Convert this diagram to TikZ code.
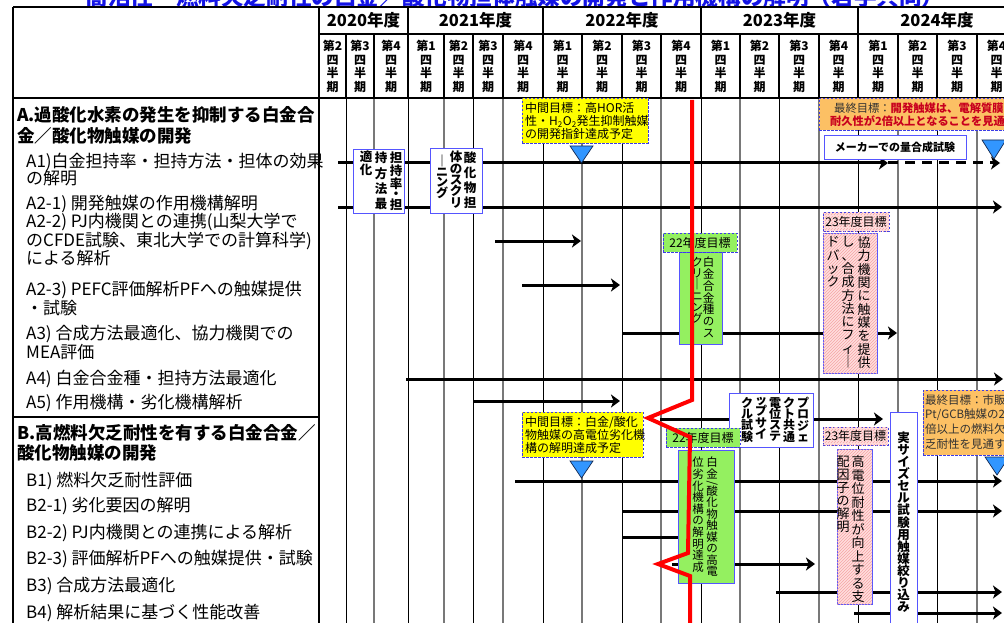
\documentclass[tikz,border=0pt]{standalone}
\usepackage{fontspec}
\setmainfont{Noto Sans CJK JP}
\usetikzlibrary{arrows.meta,patterns}
\definecolor{bluebd}{RGB}{85,85,255}
\definecolor{dashbd}{RGB}{60,60,230}
\definecolor{ylw}{RGB}{255,255,0}
\definecolor{org}{RGB}{252,192,100}
\definecolor{grn}{RGB}{148,240,96}
\definecolor{pinkbase}{RGB}{255,222,222}
\definecolor{pinkline}{RGB}{245,165,165}
\definecolor{tricol}{RGB}{50,150,255}
\definecolor{tribd}{RGB}{20,40,80}
\definecolor{gridgray}{RGB}{120,120,120}
\definecolor{ttlblue}{RGB}{20,20,230}
\definecolor{dred}{RGB}{200,0,30}
\definecolor{txtgray}{RGB}{50,50,50}
\definecolor{redl}{RGB}{255,0,0}
\newcommand\fsz[2]{\fontsize{#1}{#2}\selectfont}
\begin{document}
\lineskiplimit=-20pt\relax
\begin{tikzpicture}[x=1pt,y=-1pt,
  tline/.style={line width=1.5pt, black},
  bline/.style={line width=1pt, black},
  gline/.style={line width=1.8pt, gridgray},
  bar/.style={line width=3pt, black, -{Stealth[length=9pt,width=13pt,inset=2.5pt]}},
  barplain/.style={line width=3pt, black},
  bardash/.style={bar, dash pattern=on 10pt off 7pt},
  tri/.style={fill=tricol, draw=tribd, line width=0.7pt},
  bbox/.style={draw=bluebd, line width=0.9pt, fill=white, inner sep=0pt},
  dlbl/.style={draw=dashbd, line width=0.9pt, dash pattern=on 2.5pt off 1.5pt, inner sep=0pt},
  pinkfill/.style={fill=pinkbase, postaction={pattern=north east lines, pattern color=pinkline}},
  vcol/.style={inner sep=0pt, align=center, anchor=north},
  ltxt/.style={anchor=base west, yshift=-6.3pt, inner sep=0pt, font=\fsz{17}{19}},
  lhead/.style={anchor=base west, yshift=-6.5pt, inner sep=0pt, font=\bfseries\fsz{17.5}{19}},
  yr/.style={inner sep=0pt, font=\bfseries\fsz{16.5}{18}},
  qt/.style={inner sep=0pt, align=center, anchor=north, font=\bfseries\fsz{12}{13.7}},
  smtxt/.style={anchor=base west, yshift=-4.5pt, inner sep=0pt, font=\fsz{12}{13}},
  otxt/.style={anchor=base west, yshift=-4.3pt, inner sep=0pt, font=\fsz{11.5}{12}},
  redline/.style={line width=4pt, redl, line join=miter}
]
\useasboundingbox (0,0) rectangle (1004,623);
\clip (0,0) rectangle (1004,623);

% title
\node[anchor=base, inner sep=0pt, text=ttlblue, font=\bfseries\fsz{22.6}{24}] (title) at (515,5.5)
  {高活性・燃料欠乏耐性の白金／酸化物担体触媒の開発と作用機構の解明（若手共同）};

% grid
\foreach \x in {346,408,473,543,622,701,779,858,937} \draw[bline] (\x,98) -- (\x,630);
\foreach \x in {374,444,503,582,661,740,819,898,977} \draw[gline] (\x,98) -- (\x,630);
\draw[tline] (13,7) -- (1016,7);
\draw[tline] (319,34) -- (1016,34);
\draw[tline] (13,98) -- (1016,98);
\draw[tline] (13,7) -- (13,630);
\draw[tline] (319,7) -- (319,630);
\foreach \x in {408,543,701,858} \draw[tline] (\x,7) -- (\x,98);
\foreach \x in {346,374,444,473,503,582,622,661,740,779,819,898,937,977} \draw[tline] (\x,34) -- (\x,98);
\draw[tline] (13,417) -- (319,417);

% header texts
\node[yr] (y2020) at (363.5,20.5) {2020年度};
\node[yr] (y2021) at (475.5,20.5) {2021年度};
\node[yr] (y2022) at (622,20.5) {2022年度};
\node[yr] (y2023) at (779.5,20.5) {2023年度};
\node[yr] (y2024) at (937,20.5) {2024年度};
\foreach \a/\b/\q in {319/346/2,346/374/3,374/408/4,408/444/1,444/473/2,473/503/3,503/543/4,543/582/1,582/622/2,622/661/3,661/701/4,701/740/1,740/779/2,779/819/3,819/858/4,858/898/1,898/937/2,937/977/3,977/1016/4}{
  \pgfmathsetmacro\cx{(\a+\b)/2}
  \node[qt] (q\a) at (\cx,40) {第\q\\四\\半\\期};
}

% left texts
\node[lhead] (tA1) at (17,115) {A.過酸化水素の発生を抑制する白金合};
\node[lhead] (tA2) at (17,136) {金／酸化物触媒の開発};
\node[ltxt] (tA1a) at (26,161) {A1)白金担持率・担持方法・担体の効果};
\node[ltxt] (tA1b) at (26,178) {の解明};
\node[ltxt] (tA21) at (26,203) {A2-1) 開発触媒の作用機構解明};
\node[ltxt] (tA22a) at (26,221) {A2-2) PJ内機関との連携(山梨大学で};
\node[ltxt] (tA22b) at (26,240) {のCFDE試験、東北大学での計算科学)};
\node[ltxt] (tA22c) at (26,258) {による解析};
\node[ltxt] (tA23a) at (26,289) {A2-3) PEFC評価解析PFへの触媒提供};
\node[ltxt] (tA23b) at (26,308) {・試験};
\node[ltxt] (tA3a) at (26,333) {A3) 合成方法最適化、協力機関での};
\node[ltxt] (tA3b) at (26,352) {MEA評価};
\node[ltxt] (tA4) at (26,378) {A4) 白金合金種・担持方法最適化};
\node[ltxt] (tA5) at (26,402) {A5) 作用機構・劣化機構解析};
\node[lhead] (tB1) at (17,433) {B.高燃料欠乏耐性を有する白金合金／};
\node[lhead] (tB2) at (17,453) {酸化物触媒の開発};
\node[ltxt] (tB1x) at (26,480) {B1) 燃料欠乏耐性評価};
\node[ltxt] (tB21) at (26,505) {B2-1) 劣化要因の解明};
\node[ltxt] (tB22) at (26,532) {B2-2) PJ内機関との連携による解析};
\node[ltxt] (tB23) at (26,558) {B2-3) 評価解析PFへの触媒提供・試験};
\node[ltxt] (tB3) at (26,585) {B3) 合成方法最適化};
\node[ltxt] (tB4) at (26,612) {B4) 解析結果に基づく性能改善};

% bar end points
\coordinate (a1s) at (338,163); \coordinate (a1m) at (888,163); \coordinate (a1e) at (1000,163);
\coordinate (a21s) at (338,207); \coordinate (a21e) at (1002,207);
\coordinate (a22s) at (495,241); \coordinate (a22e) at (581,241);
\coordinate (a23s) at (522,285); \coordinate (a23e) at (620,285);
\coordinate (a3s) at (622,333); \coordinate (a3e) at (897,333);
\coordinate (a4s) at (406,379); \coordinate (a4e) at (1003,379);
\coordinate (a5s) at (473,401); \coordinate (a5e) at (620,401);
\coordinate (bhs) at (660,419); \coordinate (bhe) at (883,419);
\coordinate (b1s) at (515,481); \coordinate (b1e) at (1002,481);
\coordinate (b21s) at (622,511); \coordinate (b21e) at (1002,511);
\coordinate (b22s) at (622,537); \coordinate (b22e) at (680,537);
\coordinate (b23s) at (672,564); \coordinate (b23e) at (815,564);
\coordinate (b3s) at (776,592); \coordinate (b3e) at (1002,592);
\coordinate (b4s) at (854,613); \coordinate (b4e) at (1002,613);

\draw[bar] (a1s) -- (a1m);
\draw[bardash] (a1m) -- (a1e);
\draw[bar] (a21s) -- (a21e);
\draw[bar] (a22s) -- (a22e);
\draw[bar] (a23s) -- (a23e);
\draw[bar] (a3s) -- (a3e);
\draw[bar] (a4s) -- (a4e);
\draw[bar] (a5s) -- (a5e);
\draw[bar] (bhs) -- (bhe);
\draw[bar] (b1s) -- (b1e);
\draw[bar] (b21s) -- (b21e);
\draw[barplain] (b22s) -- (b22e);
\draw[bar] (b23s) -- (b23e);
\draw[bar] (b3s) -- (b3e);
\draw[bar] (b4s) -- (b4e);

% milestone triangles
\draw[tri] (570,146) -- (593,146) -- (581.5,163) -- cycle;
\draw[tri] (982,140) -- (1006,140) -- (994,159) -- cycle;
\draw[tri] (570,461) -- (593,461) -- (581.5,478) -- cycle;
\draw[tri] (985,457) -- (1009,457) -- (997,475) -- cycle;

% box A1
\node[bbox, minimum width=51pt, minimum height=64pt] (bA1) at (378.5,181) {};
\node[vcol, font=\bfseries\fsz{12.5}{13}] (bA1c1) at (396,151.5) {担\\持\\率\\[-2.5pt]・\\[-2.5pt]担};
\node[vcol, font=\bfseries\fsz{12.5}{15.3}] (bA1c2) at (381,152) {持\\方\\法\\最};
\node[vcol, font=\bfseries\fsz{12.5}{13}] (bA1c3) at (366,151) {適\\化};

% box A2
\node[bbox, minimum width=52pt, minimum height=65pt] (bA2) at (456,180.5) {};
\node[vcol, font=\bfseries\fsz{12.5}{15}] (bA2c1) at (470,152) {酸\\化\\物\\担};
\node[vcol, font=\bfseries\fsz{12.5}{11.3}] (bA2c2) at (456,151) {体\\の\\ス\\ク\\リ};
\node[vcol, font=\bfseries\fsz{12}{10.5}] (bA2c3) at (442,155) {｜\\ニ\\ン\\グ};

% maker box
\node[bbox, minimum width=142pt, minimum height=24pt, font=\bfseries\fsz{11}{12}] (mk) at (895,147) {メーカーでの量合成試験};

% yellow A
\node[dlbl, fill=ylw, minimum width=126pt, minimum height=45pt] (yA) at (585,120.5) {};
\node[smtxt] (yA1) at (525,108) {中間目標：高HOR活};
\node[smtxt] (yA2) at (525,121) {性・H\textsubscript{2}O\textsubscript{2}発生抑制触媒};
\node[smtxt] (yA3) at (525,134) {の開発指針達成予定};

% orange A
\node[dlbl, fill=org, minimum width=191pt, minimum height=32pt] (oA) at (914.5,114) {};
\node[otxt, font=\fsz{11.3}{12}] (oA1) at (834,108)
  {\textcolor{txtgray}{最終目標：}\textcolor{dred}{\bfseries 開発触媒は、電解質膜の}};
\node[otxt, font=\bfseries\fsz{11.2}{12}, text=dred] (oA2) at (830,121)
  {耐久性が2倍以上となることを見通す};

% green A
\node[bbox, fill=grn, minimum width=43pt, minimum height=92pt] (gA) at (700.5,298) {};
\node[dlbl, fill=grn, minimum width=74pt, minimum height=19pt, font=\fsz{12}{13}] (gAl) at (700,242.5) {22年度目標};
\node[vcol, font=\fsz{11.5}{11.7}] (gAc1) at (708.5,257) {白\\金\\合\\金\\種\\の\\ス};
\node[vcol, font=\fsz{11.5}{11.2}] (gAc2) at (697,257) {ク\\リ\\｜\\ニ\\ン\\グ};

% pink A
\node[dlbl, pinkfill, minimum width=66pt, minimum height=19pt, font=\fsz{12}{13}] (pAl) at (856,221.5) {23年度目標};
\node[bbox, pinkfill, minimum width=54pt, minimum height=140pt] (pA) at (850,303) {};
\node[vcol, font=\fsz{13}{13.3}] (pAc1) at (864,236.5) {協\\力\\機\\関\\に\\触\\媒\\を\\提\\供};
\node[vcol, font=\fsz{13}{13.3}] (pAc2) at (848,236.5) {し\\、\\合\\成\\方\\法\\に\\フ\\ィ\\｜};
\node[vcol, font=\fsz{13}{13.3}] (pAc3) at (833,236.5) {ド\\バ\\ッ\\ク};

% project box
\node[bbox, minimum width=84pt, minimum height=54pt] (prj) at (771,420) {};
\node[vcol, font=\bfseries\fsz{12}{11.3}] (prjc1) at (803,397) {プ\\ロ\\ジ\\ェ};
\node[vcol, font=\bfseries\fsz{12}{11.3}] (prjc2) at (789,397) {ク\\ト\\共\\通};
\node[vcol, font=\bfseries\fsz{12}{11.3}] (prjc3) at (775,397) {電\\位\\ス\\テ};
\node[vcol, font=\bfseries\fsz{12}{11.3}] (prjc4) at (761,397) {ッ\\プ\\サ\\イ};
\node[vcol, font=\bfseries\fsz{12}{11.3}] (prjc5) at (747,397) {ク\\ル\\試\\験};

% yellow B
\node[dlbl, fill=ylw, minimum width=121pt, minimum height=45pt] (yB) at (582.5,434.5) {};
\node[smtxt] (yB1) at (525,422) {中間目標：白金/酸化};
\node[smtxt] (yB2) at (525,435) {物触媒の高電位劣化機};
\node[smtxt] (yB3) at (525,448) {構の解明達成予定};

% green B
\node[dlbl, fill=grn, minimum width=74pt, minimum height=19pt, font=\fsz{12}{13}] (gBl) at (703,437.5) {22年度目標};
\node[bbox, fill=grn, minimum width=56pt, minimum height=133pt] (gB) at (706,516.5) {};
\node[vcol, font=\fsz{11.5}{11.5}] (gBc1) at (712,457) {白\\金\\[-4.5pt]\rotatebox{90}{/}\\[-1.5pt]酸\\化\\物\\触\\媒\\の\\高\\電};
\node[vcol, font=\fsz{11.5}{11.6}] (gBc2) at (698,457) {位\\劣\\化\\機\\構\\の\\解\\明\\達\\成};

% pink B
\node[dlbl, pinkfill, minimum width=65pt, minimum height=18pt, font=\fsz{12}{13}] (pBl) at (855.5,436) {23年度目標};
\node[bbox, pinkfill, minimum width=35pt, minimum height=155pt] (pB) at (854.5,526.5) {};
\node[vcol, font=\fsz{13}{13.5}] (pBc1) at (858,455.5) {高\\電\\位\\耐\\性\\が\\向\\上\\す\\る\\支};
\node[vcol, font=\fsz{13}{13}] (pBc2) at (843,455.5) {配\\因\\子\\の\\解\\明};

% real-size cell box
\node[bbox, minimum width=27pt, minimum height=228pt] (js) at (903.5,526) {};
\node[vcol, font=\bfseries\fsz{12.5}{12.1}] (jsc) at (903.5,431.5)
  {実\\サ\\イ\\ズ\\セ\\ル\\試\\験\\用\\触\\媒\\絞\\り\\込\\み};

% orange B
\node[dlbl, fill=org, minimum width=90pt, minimum height=65pt] (oB) at (968,422.5) {};
\node[otxt, text=txtgray] (oB1) at (925,400) {最終目標：市販};
\node[otxt, text=txtgray] (oB2) at (925,414) {Pt/GCB触媒の2};
\node[otxt, text=txtgray] (oB3) at (925,429) {倍以上の燃料欠};
\node[otxt, text=txtgray] (oB4) at (925,444) {乏耐性を見通す。};

% red line
\coordinate (r0) at (692,100);
\coordinate (r1) at (692,400);
\coordinate (r2) at (648,418);
\coordinate (r3) at (690,437);
\coordinate (r4) at (688,553);
\coordinate (r5) at (658,564);
\coordinate (r6) at (690,576);
\coordinate (r7) at (690,630);
\draw[redline] (r0) -- (r1) -- (r2) -- (r3) -- (r4) -- (r5) -- (r6) -- (r7);
\end{tikzpicture}
\end{document}
